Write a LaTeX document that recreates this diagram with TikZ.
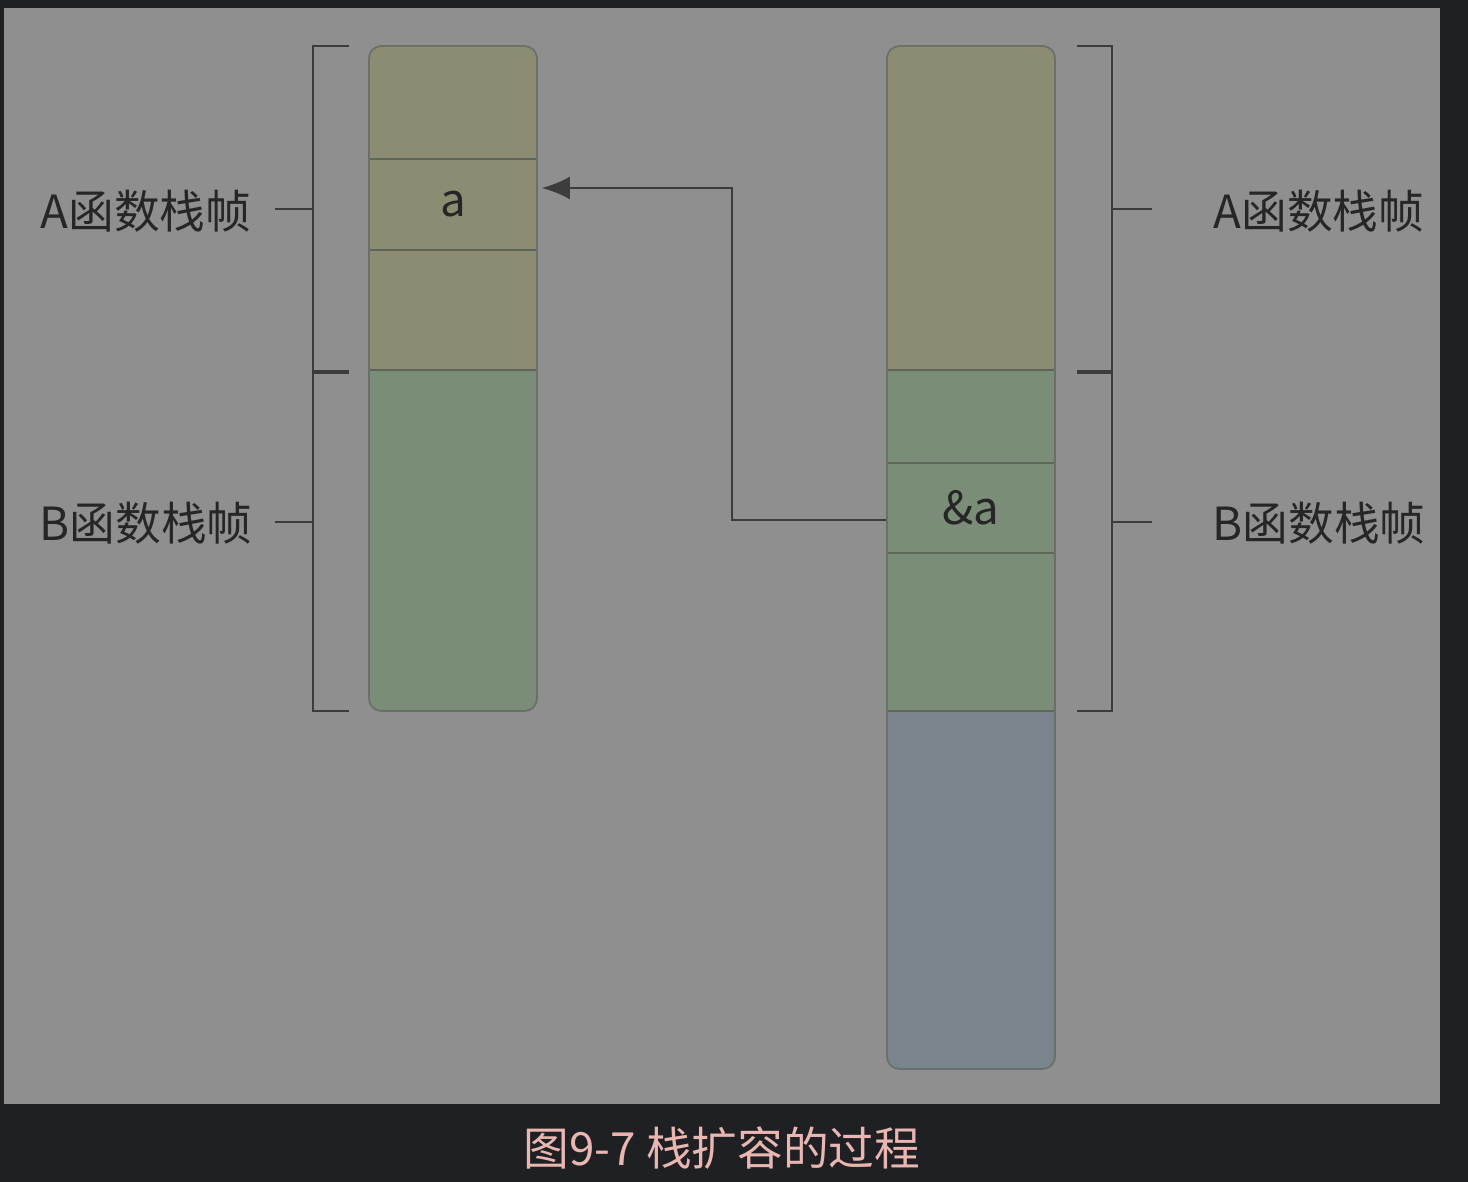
\documentclass[tikz,border=0pt]{standalone}
\usepackage{fontspec}
\setmainfont{Noto Sans CJK SC}
\usetikzlibrary{arrows.meta}
\definecolor{pagebg}{HTML}{1F2023}
\definecolor{panelgray}{HTML}{8F8F8F}
\definecolor{stkolive}{HTML}{8C8C73}
\definecolor{stkgreen}{HTML}{7A8D77}
\definecolor{stkblue}{HTML}{79848D}
\definecolor{edgegray}{HTML}{6A6F67}
\definecolor{cutgray}{HTML}{5E6657}
\definecolor{linegray}{HTML}{3C3C3C}
\definecolor{captionpink}{HTML}{E9B6B2}
\tikzset{
  lbl/.style={font=\fontsize{13pt}{15pt}\selectfont, text=black!85, inner sep=0pt},
  cell/.style={minimum width=1.68cm, minimum height=0.91cm, inner sep=0pt,
    font=\fontsize{13pt}{15pt}\selectfont, text=black!85},
  brk/.style={line width=0.7pt, draw=linegray},
  cut/.style={line width=0.6pt, draw=cutgray},
}
\begin{document}
\begin{tikzpicture}[x=0.01cm,y=-0.01cm,>={Latex[length=8pt,width=6.5pt]}]
    \useasboundingbox (0,0) rectangle (1468,1182);
    \fill[pagebg] (0,0) rectangle (1468,1182);
    \fill[panelgray] (4,8) rectangle (1440,1104);
    % left stack
    \begin{scope}
      \clip[rounded corners=3.5pt] (369,46) rectangle (537,711);
      \fill[stkolive] (369,46) rectangle (537,370);
      \fill[stkgreen] (369,370) rectangle (537,711);
    \end{scope}
    \foreach \yy in {159,250,370}{%
      \draw[cut] (369,\yy) -- (537,\yy);}
    \draw[edgegray,line width=0.5pt,rounded corners=3.5pt] (369,46) rectangle (537,711);
    \node[cell] (cella) at (453,204.5) {a};
    % right stack
    \begin{scope}
      \clip[rounded corners=3.5pt] (887,46) rectangle (1055,1069);
      \fill[stkolive] (887,46) rectangle (1055,370);
      \fill[stkgreen] (887,370) rectangle (1055,711);
      \fill[stkblue] (887,711) rectangle (1055,1069);
    \end{scope}
    \foreach \yy in {370,463,553,711}{%
      \draw[cut] (887,\yy) -- (1055,\yy);}
    \draw[edgegray,line width=0.5pt,rounded corners=3.5pt] (887,46) rectangle (1055,1069);
    \node[cell] (refa) at (971,508) {\&a};
    % brackets
    \draw[brk] (349,46) -- (313,46) -- (313,711) -- (349,711);
    \draw[brk,line width=1.2pt] (313,372) -- (349,372);
    \draw[brk] (1077,46) -- (1112,46) -- (1112,711) -- (1077,711);
    \draw[brk,line width=1.2pt] (1077,372) -- (1112,372);
    \foreach \yy in {209,522}{%
      \draw[brk] (275,\yy) -- (313,\yy);
      \draw[brk] (1112,\yy) -- (1152,\yy);}
    % frame labels
    \node[lbl] (la) at (146,211) {A函数栈帧};
    \node[lbl] (lb) at (146,523) {B函数栈帧};
    \node[lbl] (ra) at (1319,211) {A函数栈帧};
    \node[lbl] (rb) at (1319,523) {B函数栈帧};
    % pointer
    \draw[->,line width=0.7pt,draw=linegray] ([yshift=-0.12cm]refa.west) -- ++(-154,0)
      |- ([xshift=0.04cm,yshift=0.165cm]cella.east);
    % caption
    \node[font=\fontsize{13pt}{15pt}\selectfont, text=captionpink, inner sep=0pt]
      (cap) at (722,1148) {图9-7 栈扩容的过程};
\end{tikzpicture}
\end{document}
